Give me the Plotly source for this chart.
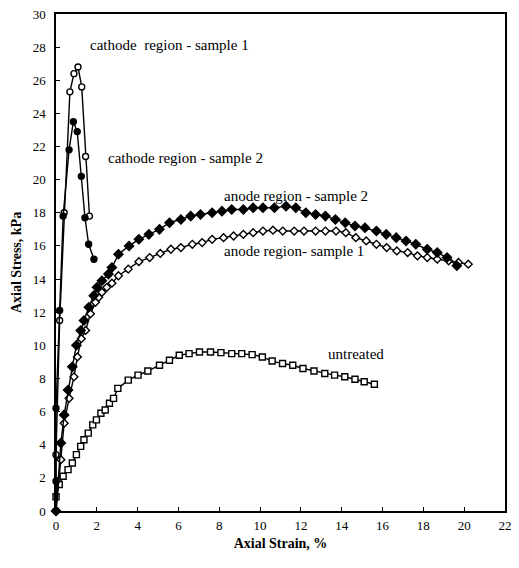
import plotly.graph_objects as go

# Cathode region - sample 1 (open circles)
cath1_x = [0, 0.0, 0.18, 0.40, 0.68, 0.88, 1.08, 1.26, 1.45, 1.64]
cath1_y = [0, 3.4, 11.5, 18.0, 25.3, 26.4, 26.8, 25.6, 21.4, 17.8]

# Cathode region - sample 2 (filled circles)
cath2_x = [0, 0.0, 0.0, 0.18, 0.35, 0.64, 0.85, 1.04, 1.24, 1.42, 1.60, 1.86]
cath2_y = [0, 1.8, 6.2, 12.1, 17.8, 21.8, 23.5, 22.9, 20.2, 17.7, 16.1, 15.2]

# Anode region - sample 2 (filled diamonds)
an2_x = [0, 0.24, 0.40, 0.59, 0.80, 1.00, 1.21, 1.37, 1.61, 1.85, 2.01, 2.25, 2.57, 2.74,
         3.06, 3.58, 4.06, 4.55, 5.07, 5.56, 6.12, 6.60, 7.08, 7.65, 8.13, 8.61, 9.18, 9.66,
         10.14, 10.70, 11.27, 11.75, 12.24, 12.72, 13.20, 13.69, 14.17, 14.65, 15.14, 15.70,
         16.18, 16.67, 17.15, 17.63, 18.19, 18.68, 19.16, 19.64]
an2_y = [0, 4.1, 5.8, 7.3, 8.7, 10.0, 10.9, 11.5, 12.3, 13.0, 13.5, 13.9, 14.3, 14.7,
         15.5, 16.0, 16.4, 16.7, 17.0, 17.4, 17.6, 17.8, 17.9, 18.0, 18.1, 18.2, 18.2, 18.3,
         18.3, 18.3, 18.4, 18.3, 18.0, 17.9, 17.8, 17.6, 17.4, 17.2, 17.1, 16.9,
         16.7, 16.5, 16.3, 16.1, 15.8, 15.6, 15.3, 14.8]

# Anode region - sample 1 (open diamonds)
an1_x = [0, 0.24, 0.40, 0.64, 0.88, 1.05, 1.24, 1.45, 1.69, 1.93, 2.09, 2.25, 2.49, 2.74,
         3.06, 3.54, 4.06, 4.59, 5.11, 5.63, 6.12, 6.68, 7.16, 7.65, 8.21, 8.70, 9.18, 9.66,
         10.14, 10.63, 11.11, 11.67, 12.15, 12.72, 13.20, 13.72, 14.20, 14.69, 15.20, 15.70,
         16.20, 16.70, 17.23, 17.71, 18.19, 18.68, 19.24, 19.72, 20.20]
an1_y = [0, 3.1, 5.3, 6.8, 8.1, 9.3, 10.4, 10.9, 11.9, 12.6, 12.9, 13.2, 13.5, 13.75,
         14.2, 14.6, 15.05, 15.3, 15.55, 15.8, 15.9, 16.1, 16.2, 16.4, 16.5, 16.6, 16.7, 16.8,
         16.9, 16.95, 16.9, 16.9, 16.9, 16.9, 16.9, 16.9, 16.8, 16.5, 16.3, 16.1,
         15.9, 15.7, 15.6, 15.4, 15.3, 15.2, 15.1, 15.0, 14.9]

# Untreated (open squares)
unt_x = [0, 0.16, 0.35, 0.59, 0.80, 1.00, 1.21, 1.37, 1.58, 1.80, 1.98, 2.20, 2.41, 2.62,
         2.82, 3.03, 3.54, 4.02, 4.50, 5.07, 5.56, 6.04, 6.52, 7.03, 7.57, 8.08, 8.61, 9.10,
         9.61, 10.11, 10.59, 11.10, 11.60, 12.10, 12.64, 13.17, 13.65, 14.15, 14.65, 15.10, 15.60]
unt_y = [0.86, 1.6, 2.1, 2.5, 2.9, 3.4, 3.9, 4.3, 4.7, 5.2, 5.5, 5.9, 6.1, 6.5,
         6.8, 7.4, 7.9, 8.2, 8.45, 8.8, 9.1, 9.4, 9.5, 9.6, 9.6, 9.56, 9.5, 9.5,
         9.44, 9.3, 9.05, 8.9, 8.8, 8.6, 8.45, 8.3, 8.2, 8.1, 7.95, 7.8, 7.65]

labels = ["cathode  region - sample 1", "cathode region - sample 2",
          "anode region - sample 2", "anode region- sample 1", "untreated"]
label_x = [5.57, 6.34, 11.75, 11.66, 14.7]
label_y = [28.1, 21.3, 19.0, 15.7, 9.5]

x_ticks = list(range(0, 23, 2))
y_ticks = list(range(0, 31, 2))

fig = go.Figure()

def add(x, y, symbol, fill, size):
    fig.add_trace(go.Scatter(
        x=x, y=y, mode="lines+markers",
        line=dict(color="black", width=1.4),
        marker=dict(symbol=symbol, size=size,
                    color="black" if fill else "white",
                    line=dict(color="black", width=1.4)),
        showlegend=False, cliponaxis=False))

add(unt_x, unt_y, "square", False, 6)
add(an1_x, an1_y, "diamond", False, 6)
add(an2_x, an2_y, "diamond", True, 7)
add(cath1_x, cath1_y, "circle", False, 6)
add(cath2_x, cath2_y, "circle", True, 6)

for t, lx, ly in zip(labels, label_x, label_y):
    fig.add_annotation(x=lx, y=ly, text=t, showarrow=False,
                       font=dict(family="Liberation Serif", size=15, color="black"))

axis_common = dict(showgrid=False, zeroline=False, showline=True, linecolor="black",
                   linewidth=1.5, mirror=True, ticks="inside", ticklen=4,
                   tickcolor="black", tickwidth=1.2,
                   tickfont=dict(family="Liberation Serif", size=13, color="black"))

fig.update_xaxes(range=[0, 22], tickvals=x_ticks, ticklabelstandoff=2,
                 title=dict(text="<b>Axial Strain, %</b>", standoff=6,
                            font=dict(family="Liberation Serif", size=14, color="black")),
                 **axis_common)
fig.update_yaxes(range=[0, 30], tickvals=y_ticks, ticklabelstandoff=6,
                 title=dict(text="<b>Axial Stress, kPa</b>", standoff=8,
                            font=dict(family="Liberation Serif", size=14, color="black")),
                 **axis_common)
fig.update_xaxes(tickprefix="<b>", ticksuffix="</b>")
fig.update_yaxes(tickprefix="<b>", ticksuffix="</b>")

fig.update_layout(width=519, height=568, margin=dict(l=56, r=7, t=13, b=57),
                  plot_bgcolor="white", paper_bgcolor="white")

fig.write_html("out.html")
